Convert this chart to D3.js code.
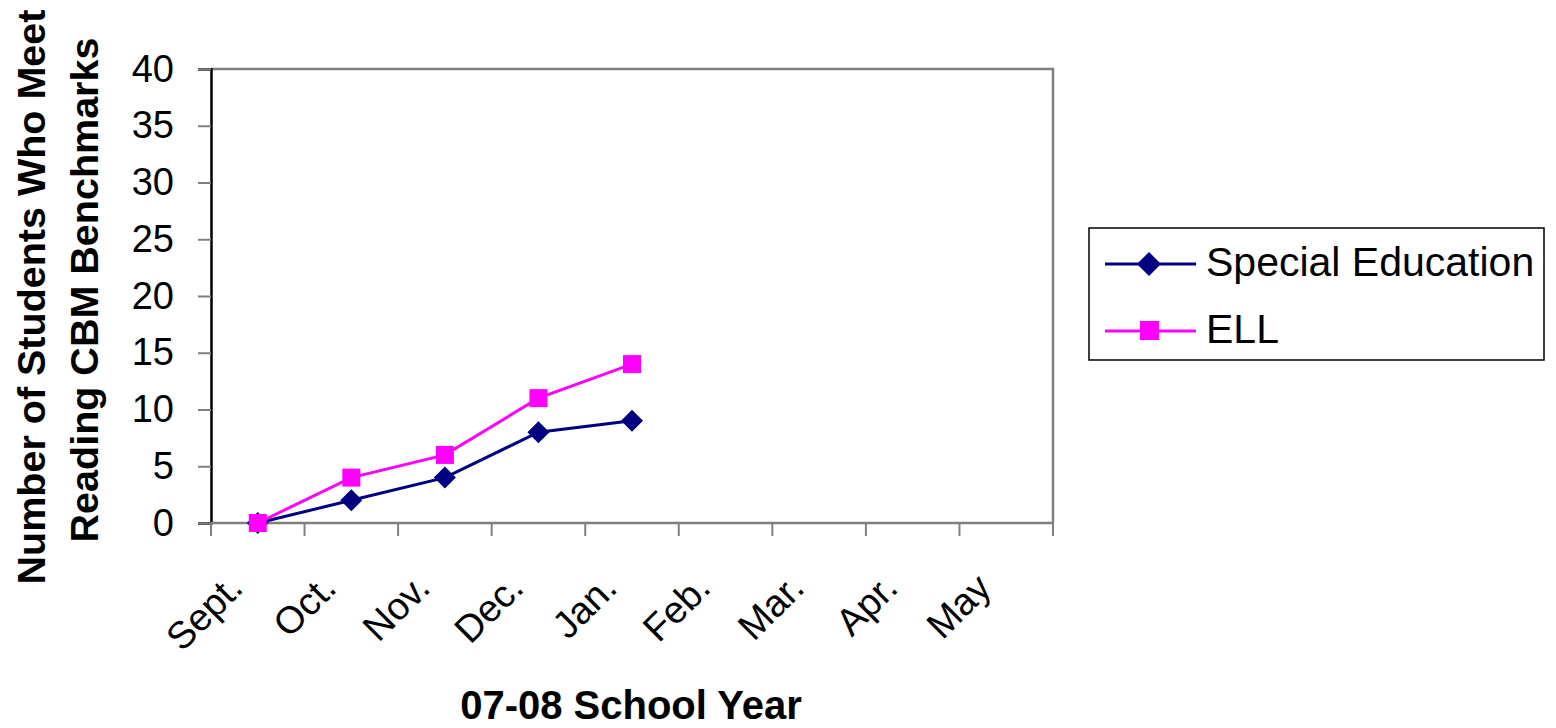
<!DOCTYPE html>
<html>
<head>
<meta charset="utf-8">
<script src="https://cdn.jsdelivr.net/npm/d3@7"></script>
<style>
  html, body { margin: 0; padding: 0; background: #fff; }
  svg { display: block; font-family: "Liberation Sans", Arial, sans-serif; }
</style>
</head>
<body>
<svg id="chart" width="1556" height="728"></svg>
<script>
// Months of the school year and students meeting reading CBM benchmarks
const months = ["Sept.", "Oct.", "Nov.", "Dec.", "Jan.", "Feb.", "Mar.", "Apr.", "May"];
const specialEducation = [0, 2, 4, 8, 9];
const ell = [0, 4, 6, 11, 14];
const yTicks = [0, 5, 10, 15, 20, 25, 30, 35, 40];
const seriesNames = ["Special Education", "ELL"];

const FONT = "Liberation Sans, Arial, sans-serif";
const svg = d3.select("#chart");
const plot = { left: 211, right: 1053, top: 69, bottom: 523 };

const x = d3.scaleBand().domain(months).range([plot.left, plot.right]);
const y = d3.scaleLinear().domain([0, 40]).range([plot.bottom, plot.top]);

// diamond marker path centred on the origin
const diamondPath = r => `M0,${-r}L${r},0L0,${r}L${-r},0Z`;

// plot frame (top and right edges in gray)
svg.append("path")
  .attr("d", `M${plot.left},${plot.top}H${plot.right}V${plot.bottom}`)
  .attr("fill", "none").attr("stroke", "#808080").attr("stroke-width", 2.5);

// y axis
const yAxis = svg.append("g")
  .attr("transform", `translate(${plot.left},0)`)
  .call(d3.axisLeft(y).tickValues(yTicks).tickSize(13).tickPadding(24));
yAxis.attr("font-size", null).attr("font-family", null);
yAxis.select(".domain").attr("stroke", "#000").attr("stroke-width", 2.5);
yAxis.selectAll(".tick line").attr("stroke", "#808080").attr("stroke-width", 2);
yAxis.selectAll(".tick text")
  .style("font-size", "38px").style("font-family", FONT).attr("fill", "#000");

// x axis: ticks at category boundaries
const xAxis = svg.append("g").attr("transform", `translate(0,${plot.bottom})`);
xAxis.append("line").attr("x1", plot.left).attr("x2", plot.right)
  .attr("stroke", "#808080").attr("stroke-width", 2.5);
const bounds = months.map(m => x(m)).concat([plot.right]);
xAxis.selectAll("line.tick").data(bounds).join("line").attr("class", "tick")
  .attr("x1", d => d).attr("x2", d => d).attr("y1", 0).attr("y2", 13)
  .attr("stroke", "#808080").attr("stroke-width", 2);
xAxis.selectAll("text").data(months).join("text")
  .attr("transform", d => `translate(${x(d) + x.bandwidth() / 2 - 13},${67}) rotate(-45)`)
  .attr("text-anchor", "end")
  .style("font-size", "38px").attr("fill", "#000")
  .text(d => d);

// axis titles
svg.append("text")
  .attr("x", 631).attr("y", 719)
  .attr("text-anchor", "middle").style("font-size", "40px").attr("font-weight", "bold")
  .text("07-08 School Year");

svg.append("text")
  .attr("transform", "translate(45,297) rotate(-90)")
  .attr("text-anchor", "middle").style("font-size", "39.5px").attr("font-weight", "bold")
  .text("Number of Students Who Meet");
svg.append("text")
  .attr("transform", "translate(98,290) rotate(-90)")
  .attr("text-anchor", "middle").style("font-size", "39.5px").attr("font-weight", "bold")
  .text("Reading CBM Benchmarks");

// series
const cx = i => x(months[i]) + x.bandwidth() / 2;
const line = d3.line().x((d, i) => cx(i)).y(d => y(d));

svg.append("path").datum(specialEducation)
  .attr("d", line).attr("fill", "none").attr("stroke", "#000080").attr("stroke-width", 3);
svg.append("path").datum(ell)
  .attr("d", line).attr("fill", "none").attr("stroke", "#FF00FF").attr("stroke-width", 3);

svg.selectAll("path.dm").data(specialEducation).join("path").attr("class", "dm")
  .attr("transform", (d, i) => `translate(${cx(i)},${y(d)})`)
  .attr("d", diamondPath(11)).attr("fill", "#000080");
svg.selectAll("rect.sq").data(ell).join("rect").attr("class", "sq")
  .attr("x", (d, i) => cx(i) - 9).attr("y", d => y(d) - 9)
  .attr("width", 18).attr("height", 18).attr("fill", "#FF00FF");

// legend
const legend = svg.append("g");
legend.append("rect").attr("x", 1089).attr("y", 228).attr("width", 455).attr("height", 132)
  .attr("fill", "#fff").attr("stroke", "#000").attr("stroke-width", 1.5);
const legendColors = ["#000080", "#FF00FF"];
const legendRows = [264, 331];
seriesNames.forEach((name, i) => {
  const ly = legendRows[i];
  legend.append("line").attr("x1", 1105).attr("x2", 1196).attr("y1", ly).attr("y2", ly)
    .attr("stroke", legendColors[i]).attr("stroke-width", 3);
  if (i === 0) {
    legend.append("path").attr("transform", `translate(1149,${ly})`)
      .attr("d", diamondPath(12)).attr("fill", legendColors[i]);
  } else {
    legend.append("rect").attr("x", 1140).attr("y", ly - 10).attr("width", 19).attr("height", 19)
      .attr("fill", legendColors[i]);
  }
  legend.append("text").attr("x", 1206).attr("y", ly + 12)
    .style("font-size", "41px").attr("fill", "#000").text(name);
});
</script>
</body>
</html>
